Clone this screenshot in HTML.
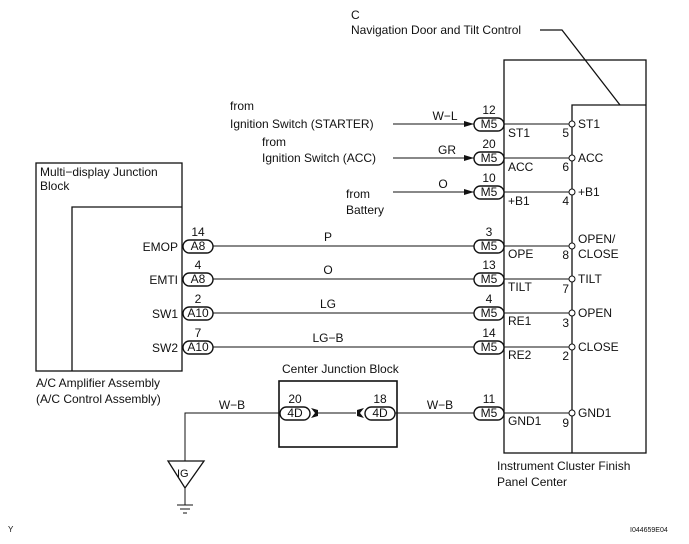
<!DOCTYPE html>
<html><head><style>
html,body{margin:0;padding:0;background:#fff;}
svg{display:block;}
text{font-family:"Liberation Sans",Arial,sans-serif;font-size:12px;fill:#111;}
.s{font-size:9px;}
</style></head><body>
<svg width="689" height="544" viewBox="0 0 689 544" xmlns="http://www.w3.org/2000/svg">
<defs>
<marker id="ar" markerWidth="10" markerHeight="6" refX="10" refY="3" orient="auto" markerUnits="userSpaceOnUse"><path d="M0,0 L10,3 L0,6 Z" fill="#111"/></marker>
</defs>
<g stroke="#111" fill="none" stroke-width="1.3">
<!-- right component -->
<rect x="504" y="60" width="142" height="393"/>
<polyline points="572,453 572,105 646,105"/>
<polyline points="540,30 562,30 620,105"/>
<!-- left component -->
<rect x="36" y="163" width="146" height="208"/>
<polyline points="72,371 72,207 182,207"/>
<!-- center junction -->
<rect x="279" y="381" width="118" height="66" stroke-width="1.6"/>
</g>
<g stroke="#111" stroke-width="1">
<line x1="393" y1="124" x2="474" y2="124" marker-end="url(#ar)"/>
<line x1="393" y1="158" x2="474" y2="158" marker-end="url(#ar)"/>
<line x1="393" y1="192" x2="474" y2="192" marker-end="url(#ar)"/>
<line x1="504" y1="124" x2="569" y2="124"/>
<line x1="504" y1="158" x2="569" y2="158"/>
<line x1="504" y1="192" x2="569" y2="192"/>
<line x1="213" y1="246" x2="474" y2="246"/>
<line x1="213" y1="279" x2="474" y2="279"/>
<line x1="213" y1="313" x2="474" y2="313"/>
<line x1="213" y1="347" x2="474" y2="347"/>
<line x1="504" y1="246" x2="569" y2="246"/>
<line x1="504" y1="279" x2="569" y2="279"/>
<line x1="504" y1="313" x2="569" y2="313"/>
<line x1="504" y1="347" x2="569" y2="347"/>
<line x1="504" y1="413" x2="569" y2="413"/>
<line x1="395" y1="413" x2="474" y2="413"/>
<polyline points="280,413 185,413 185,461" fill="none"/>
<line x1="318" y1="413" x2="356" y2="413"/>
<line x1="185" y1="488" x2="185" y2="505"/>
<line x1="177" y1="505" x2="193" y2="505"/>
<line x1="180" y1="509" x2="190" y2="509"/>
<line x1="183" y1="513" x2="187" y2="513"/>
</g>
<polygon points="168,461 204,461 185,488" fill="#fff" stroke="#111" stroke-width="1.3"/>
<text x="177" y="477" style="font-size:11px">IG</text>
<!-- pin circles -->
<g fill="#fff" stroke="#111" stroke-width="1">
<circle cx="572" cy="124" r="3"/><circle cx="572" cy="158" r="3"/><circle cx="572" cy="192" r="3"/>
<circle cx="572" cy="246" r="3"/><circle cx="572" cy="279" r="3"/><circle cx="572" cy="313" r="3"/>
<circle cx="572" cy="347" r="3"/><circle cx="572" cy="413" r="3"/>
</g>
<!-- connectors -->
<g fill="#fff" stroke="#111" stroke-width="1.4">
<rect x="474" y="118" width="30" height="13" rx="6.5"/>
<rect x="474" y="152" width="30" height="13" rx="6.5"/>
<rect x="474" y="186" width="30" height="13" rx="6.5"/>
<rect x="474" y="240" width="30" height="13" rx="6.5"/>
<rect x="474" y="273" width="30" height="13" rx="6.5"/>
<rect x="474" y="307" width="30" height="13" rx="6.5"/>
<rect x="474" y="341" width="30" height="13" rx="6.5"/>
<rect x="474" y="407" width="30" height="13" rx="6.5"/>
<rect x="183" y="240" width="30" height="13" rx="6.5"/>
<rect x="183" y="273" width="30" height="13" rx="6.5"/>
<rect x="183" y="307" width="30" height="13" rx="6.5"/>
<rect x="183" y="341" width="30" height="13" rx="6.5"/>
<rect x="280" y="407" width="30" height="13" rx="6.5"/>
<rect x="365" y="407" width="30" height="13" rx="6.5"/>
</g>
<path d="M311,408 L318,410 L318,416 L311,418 L315,413 Z" fill="#111"/>
<path d="M364,408 L357,410 L357,416 L364,418 L360,413 Z" fill="#111"/>
<g class="s" text-anchor="middle" style="font-size:11px">
<text x="489" y="128">M5</text><text x="489" y="162">M5</text><text x="489" y="196">M5</text>
<text x="489" y="250">M5</text><text x="489" y="283">M5</text><text x="489" y="317">M5</text>
<text x="489" y="351">M5</text><text x="489" y="417">M5</text>
<text x="198" y="250">A8</text><text x="198" y="283">A8</text><text x="198" y="317">A10</text><text x="198" y="351">A10</text>
<text x="295" y="417">4D</text><text x="380" y="417">4D</text>
<text x="489" y="114">12</text><text x="489" y="148">20</text><text x="489" y="182">10</text>
<text x="489" y="236">3</text><text x="489" y="269">13</text><text x="489" y="303">4</text>
<text x="489" y="337">14</text><text x="489" y="403">11</text>
<text x="198" y="236">14</text><text x="198" y="269">4</text><text x="198" y="303">2</text><text x="198" y="337">7</text>
<text x="295" y="403">20</text><text x="380" y="403">18</text>
</g>
<!-- wire colors -->
<g text-anchor="middle">
<text x="445" y="120">W−L</text><text x="447" y="154">GR</text><text x="443" y="188">O</text>
<text x="328" y="241">P</text><text x="328" y="274">O</text><text x="328" y="308">LG</text><text x="328" y="342">LG−B</text>
<text x="232" y="409">W−B</text><text x="440" y="409">W−B</text>
</g>
<!-- inner labels -->
<text x="508" y="137">ST1</text><text x="508" y="171">ACC</text><text x="508" y="205">+B1</text>
<text x="508" y="258">OPE</text><text x="508" y="291">TILT</text><text x="508" y="325">RE1</text>
<text x="508" y="359">RE2</text><text x="508" y="425">GND1</text>
<g text-anchor="end">
<text x="569" y="137">5</text><text x="569" y="171">6</text><text x="569" y="205">4</text>
<text x="569" y="259">8</text><text x="569" y="293">7</text><text x="569" y="327">3</text>
<text x="569" y="360">2</text><text x="569" y="427">9</text>
<text x="178" y="251">EMOP</text><text x="178" y="284">EMTI</text><text x="178" y="318">SW1</text><text x="178" y="352">SW2</text>
</g>
<text x="578" y="128">ST1</text><text x="578" y="162">ACC</text><text x="578" y="196">+B1</text>
<text x="578" y="243">OPEN/</text><text x="578" y="258">CLOSE</text><text x="578" y="283">TILT</text>
<text x="578" y="317">OPEN</text><text x="578" y="351">CLOSE</text><text x="578" y="417">GND1</text>
<!-- source labels -->
<text x="230" y="110">from</text><text x="230" y="128">Ignition Switch (STARTER)</text>
<text x="262" y="146">from</text><text x="262" y="162">Ignition Switch (ACC)</text>
<text x="346" y="198">from</text><text x="346" y="214">Battery</text>
<text x="351" y="19">C</text><text x="351" y="34">Navigation Door and Tilt Control</text>
<text x="40" y="176">Multi−display Junction</text><text x="40" y="190">Block</text>
<text x="36" y="387">A/C Amplifier Assembly</text><text x="36" y="403">(A/C Control Assembly)</text>
<text x="282" y="373">Center Junction Block</text>
<text x="497" y="470">Instrument Cluster Finish</text><text x="497" y="486">Panel Center</text>
<text x="8" y="532" style="font-size:8px">Y</text>
<text x="630" y="532" style="font-size:7px">I044659E04</text>
</svg>
</body></html>
